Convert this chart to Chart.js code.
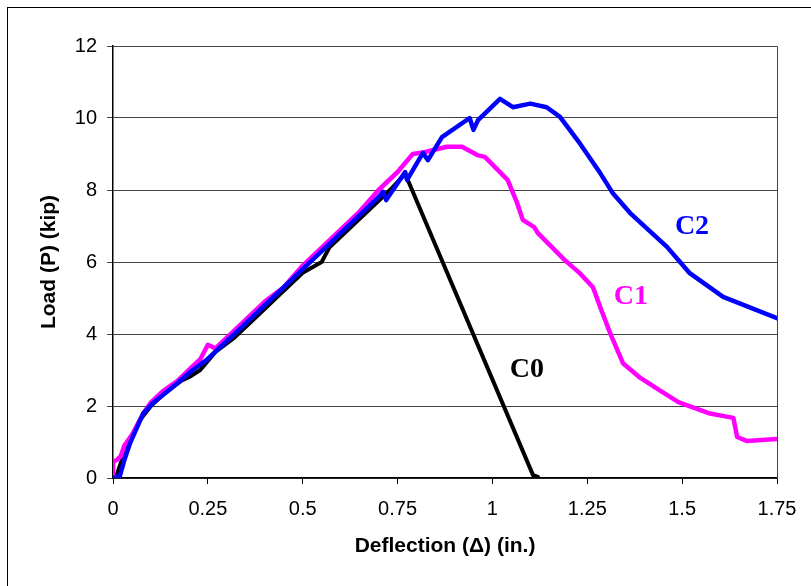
<!DOCTYPE html>
<html>
<head>
<meta charset="utf-8">
<script src="https://cdn.jsdelivr.net/npm/chart.js@4.4.1/dist/chart.umd.min.js"></script>
<style>
  html, body { margin: 0; padding: 0; background: #fff; overflow: hidden; }
  #wrap { position: relative; width: 811px; height: 586px; }
  #frame { position: absolute; left: 7px; top: 7px; width: 900px; height: 700px; border: 1px solid #000; box-sizing: border-box; pointer-events: none; }
  canvas { position: absolute; left: 0; top: 0; }
</style>
</head>
<body>
<div id="wrap">
  <div id="frame"></div>
  <canvas id="loadChart" width="811" height="586"></canvas>
</div>
<script>
// Load vs deflection curves
const xTicks = [0, 0.25, 0.5, 0.75, 1, 1.25, 1.5, 1.75];
const yTicks = [0, 2, 4, 6, 8, 10, 12];

const c0X = [0, 0.01, 0.02, 0.04, 0.07, 0.1, 0.14, 0.18, 0.2, 0.23, 0.27, 0.32, 0.38, 0.44, 0.5, 0.55, 0.57, 0.62, 0.68, 0.73, 0.77, 1.107, 1.12];
const c0Y = [0, 0.1, 0.4, 0.9, 1.6, 2.0, 2.4, 2.7, 2.8, 3.0, 3.5, 3.9, 4.5, 5.1, 5.7, 6.0, 6.4, 6.9, 7.5, 8.0, 8.45, 0.08, 0.03];

const c1X = [0, 0, 0.01, 0.02, 0.03, 0.05, 0.08, 0.1, 0.13, 0.17, 0.2, 0.23, 0.25, 0.27, 0.3, 0.35, 0.4, 0.45, 0.5, 0.55, 0.6, 0.65, 0.7, 0.75, 0.79, 0.82, 0.88, 0.92, 0.96, 0.98, 1.01, 1.04, 1.065, 1.08, 1.11, 1.12, 1.19, 1.23, 1.265, 1.284, 1.31, 1.344, 1.39, 1.44, 1.49, 1.57, 1.635, 1.645, 1.67, 1.75];
const c1Y = [0, 0.45, 0.5, 0.6, 0.9, 1.2, 1.8, 2.1, 2.4, 2.7, 3.0, 3.3, 3.7, 3.6, 3.9, 4.4, 4.9, 5.3, 5.9, 6.4, 6.9, 7.4, 8.0, 8.5, 9.0, 9.05, 9.2, 9.2, 8.97, 8.92, 8.6, 8.28, 7.64, 7.17, 6.97, 6.8, 6.06, 5.69, 5.3, 4.75, 4.03, 3.19, 2.78, 2.44, 2.11, 1.8, 1.67, 1.14, 1.03, 1.08];

const c2X = [0, 0.018, 0.03, 0.045, 0.08, 0.105, 0.158, 0.21, 0.247, 0.274, 0.32, 0.38, 0.44, 0.5, 0.56, 0.6, 0.65, 0.7, 0.712, 0.72, 0.77, 0.775, 0.817, 0.83, 0.867, 0.94, 0.95, 0.962, 1.02, 1.054, 1.1, 1.143, 1.178, 1.23, 1.284, 1.318, 1.363, 1.46, 1.52, 1.608, 1.75];
const c2Y = [0, 0.05, 0.5, 0.97, 1.8, 2.08, 2.53, 3.0, 3.28, 3.55, 4.0, 4.6, 5.2, 5.8, 6.4, 6.8, 7.3, 7.8, 7.95, 7.72, 8.5, 8.28, 9.03, 8.83, 9.47, 10.0, 9.67, 9.94, 10.53, 10.3, 10.4, 10.3, 10.03, 9.3, 8.47, 7.9, 7.36, 6.42, 5.69, 5.03, 4.44];

const seriesNames = ['C0', 'C1', 'C2'];
const seriesColors = ['#000000', '#ff00ff', '#0000ff'];
// where each curve's name is written, in data units
const labelX = [1.091, 1.365, 1.526];
const labelY = [3.0, 5.03, 6.97];

function toPoints(xs, ys) {
    return xs.map(function(x, i) { return { x: x, y: ys[i] }; });
}

const FONT = "'Liberation Sans', Arial, sans-serif";

// frame round the plot area + curve names
const plotDecor = {
    id: 'plotDecor',
    beforeDatasetsDraw(chart) {
        const a = chart.chartArea, c = chart.ctx;
        c.save();
        c.strokeStyle = '#444';
        c.lineWidth = 1;
        c.beginPath();
        c.moveTo(a.left, a.top + 0.5);
        c.lineTo(a.right + 0.5, a.top + 0.5);
        c.lineTo(a.right + 0.5, a.bottom);
        c.stroke();
        c.restore();
    },
    afterDatasetsDraw(chart) {
        const c = chart.ctx;
        const xs = chart.scales.x, ys = chart.scales.y;
        c.save();
        c.font = "bold 28px 'Liberation Serif', 'Times New Roman', serif";
        c.textAlign = 'center';
        c.textBaseline = 'middle';
        seriesNames.forEach(function(name, i) {
            c.fillStyle = seriesColors[i];
            c.fillText(name, xs.getPixelForValue(labelX[i]), ys.getPixelForValue(labelY[i]));
        });
        c.restore();
    }
};

new Chart(document.getElementById('loadChart'), {
    type: 'scatter',
    data: {
        datasets: [
            { label: 'C0', data: toPoints(c0X, c0Y), borderColor: seriesColors[0], borderWidth: 4, order: 3 },
            { label: 'C1', data: toPoints(c1X, c1Y), borderColor: seriesColors[1], borderWidth: 4.5, order: 2 },
            { label: 'C2', data: toPoints(c2X, c2Y), borderColor: seriesColors[2], borderWidth: 4.5, order: 1 }
        ].map(function(d) {
            return Object.assign(d, { showLine: true, pointRadius: 0, tension: 0, fill: false, borderJoinStyle: 'round', borderCapStyle: 'round' });
        })
    },
    options: {
        responsive: false,
        animation: false,
        layout: { padding: { left: 37, top: 46, right: 34, bottom: 27 } },
        plugins: { legend: { display: false }, tooltip: { enabled: false } },
        scales: {
            x: {
                type: 'linear',
                min: 0, max: 1.75,
                afterBuildTicks: function(s) { s.ticks = xTicks.map(function(v) { return { value: v }; }); },
                afterFit: function(s) { s.height = 81; },
                grid: { drawOnChartArea: false, drawTicks: true, tickLength: 6, color: '#000' },
                border: { display: true, color: '#000', width: 1.5 },
                ticks: { color: '#000', padding: 13, font: { family: FONT, size: 20 }, maxRotation: 0,
                         callback: function(v) { return String(v); } },
                title: { display: true, text: 'Deflection (\u0394) (in.)', color: '#000', font: { family: FONT, size: 21, weight: 'bold' }, padding: { top: 4, bottom: 0 } }
            },
            y: {
                type: 'linear',
                min: 0, max: 12,
                afterBuildTicks: function(s) { s.ticks = yTicks.map(function(v) { return { value: v }; }); },
                afterFit: function(s) { s.width = 76; },
                grid: { drawOnChartArea: true, drawTicks: true, tickLength: 6, color: '#444', lineWidth: 1 },
                border: { display: true, color: '#000', width: 1.5 },
                ticks: { color: '#000', padding: 10, font: { family: FONT, size: 20 },
                         callback: function(v) { return String(v); } },
                title: { display: true, text: 'Load (P) (kip)', color: '#000', font: { family: FONT, size: 21, weight: 'bold' }, padding: { top: 0, bottom: 0 } }
            }
        }
    },
    plugins: [plotDecor]
});
</script>
</body>
</html>
